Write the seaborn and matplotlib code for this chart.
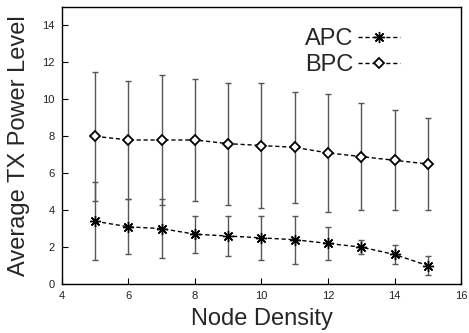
import numpy as np
import pandas as pd
import seaborn as sns
import matplotlib
matplotlib.use("Agg")
import matplotlib.pyplot as plt

# -------------------------------------------------------------------
# Data
# -------------------------------------------------------------------
node_density = [5, 6, 7, 8, 9, 10, 11, 12, 13, 14, 15]

apc_mean = [3.4, 3.1, 3.0, 2.7, 2.6, 2.5, 2.4, 2.2, 2.0, 1.6, 1.0]
apc_upper = [5.5, 4.6, 4.6, 3.7, 3.7, 3.7, 3.7, 3.1, 2.4, 2.1, 1.5]
apc_lower = [1.3, 1.6, 1.4, 1.7, 1.5, 1.3, 1.1, 1.3, 1.6, 1.1, 0.5]

bpc_mean = [8.0, 7.8, 7.8, 7.8, 7.6, 7.5, 7.4, 7.1, 6.9, 6.7, 6.5]
bpc_upper = [11.5, 11.0, 11.3, 11.1, 10.9, 10.9, 10.4, 10.3, 9.8, 9.4, 9.0]
bpc_lower = [4.5, 4.6, 4.3, 4.5, 4.3, 4.1, 4.4, 3.9, 4.0, 4.0, 4.0]

x_ticks = [4, 6, 8, 10, 12, 14, 16]
y_ticks = [0, 2, 4, 6, 8, 10, 12, 14]

df = pd.DataFrame({
    "density": node_density * 2,
    "power": apc_mean + bpc_mean,
    "upper": apc_upper + bpc_upper,
    "lower": apc_lower + bpc_lower,
    "scheme": ["APC"] * len(node_density) + ["BPC"] * len(node_density),
})

# -------------------------------------------------------------------
# Style
# -------------------------------------------------------------------
sns.set_style("ticks")
plt.rcParams["font.family"] = ["Liberation Sans", "DejaVu Sans"]

fig = plt.figure(figsize=(4.69, 3.33), dpi=100)
ax = fig.add_axes([0.132, 0.147, 0.851, 0.832])

# error bars (gray stems, dark caps)
for scheme in ["APC", "BPC"]:
    sub = df[df["scheme"] == scheme]
    yerr = [sub["power"] - sub["lower"], sub["upper"] - sub["power"]]
    ax.errorbar(sub["density"], sub["power"], yerr=yerr, fmt="none",
                ecolor="#555555", elinewidth=1.0, capsize=2.2,
                capthick=1.0, zorder=1)

# --- APC: asterisk markers ---
sns.lineplot(data=df[df["scheme"] == "APC"], x="density", y="power",
             color="black", marker=(8, 2, 0), markersize=8,
             markeredgecolor="black", markeredgewidth=1.0,
             dashes=(3, 2), linewidth=1.0,
             label="APC", ax=ax, zorder=3)

# --- BPC: diamonds ---
sns.lineplot(data=df[df["scheme"] == "BPC"], x="density", y="power",
             color="black", marker="D", markersize=5,
             markerfacecolor="#666666", markeredgecolor="black",
             markeredgewidth=1.3, dashes=(3, 2), linewidth=1.0,
             label="BPC", ax=ax, zorder=3)

ax.set_xlim(4, 16)
ax.set_ylim(0, 15)
ax.set_xticks(x_ticks)
ax.set_yticks(y_ticks)
ax.tick_params(direction="in", length=4, labelsize=8, colors="black",
               labelcolor="#222222", pad=5)
for s in ax.spines.values():
    s.set_linewidth(1.0)
    s.set_color("black")

ax.set_xlabel("Node Density", fontsize=17, labelpad=5)
ax.set_ylabel("Average TX Power Level", fontsize=17, labelpad=9)

handles, labels = ax.get_legend_handles_labels()
for h in handles:
    if h.get_marker() == "D":
        h.set_markerfacecolor("white")
leg = ax.legend(handles, labels, loc="upper right",
                bbox_to_anchor=(0.877, 0.965), frameon=False,
                markerfirst=False, fontsize=17, handlelength=1.8,
                handletextpad=0.2, labelspacing=0.15, borderpad=0)

fig.savefig("out.png", dpi=100)
